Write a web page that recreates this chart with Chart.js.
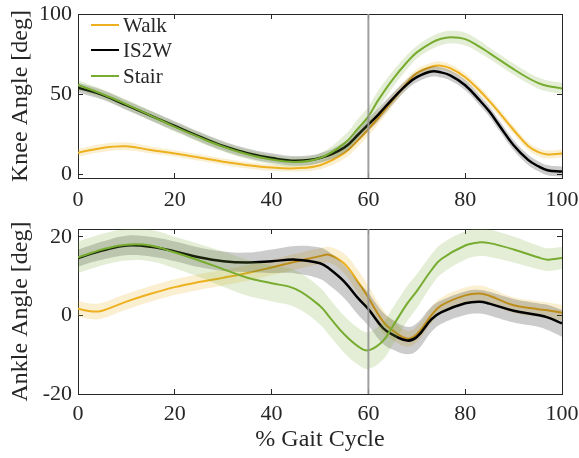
<!DOCTYPE html>
<html>
<head>
<meta charset="utf-8">
<script src="https://cdn.jsdelivr.net/npm/chart.js@4.4.1/dist/chart.umd.min.js"></script>
<style>
  html, body { margin: 0; padding: 0; background: #fff; }
  #wrap { position: relative; width: 579px; height: 458px; overflow: hidden; }
  #c1 { position: absolute; left: 0; top: 0; }
  #c2 { position: absolute; left: 0; top: 215px; }
  .lg { position: absolute; left: 91px; height: 24px; display: flex; align-items: center;
        font-family: 'Liberation Serif', 'Times New Roman', serif; font-size: 21px; color: #262626; white-space: nowrap; }
  .lg span.ln { display: inline-block; width: 28px; margin-right: 4px; }
</style>
</head>
<body>
<div id="wrap">
  <canvas id="c1" width="579" height="215"></canvas>
  <canvas id="c2" width="579" height="243"></canvas>
  <div id="legend"></div>
</div>
<script>
// ---------------- DATA ----------------
const seriesNames = ['Walk', 'IS2W', 'Stair'];
const xTicks = [0, 20, 40, 60, 80, 100];
const kneeTicks = [0, 50, 100];
const ankleTicks = [-20, 0, 20];
const eventX = [60];

const kneeX = [0,5,10,15,20,25,30,35,40,45,50,55,58,60,62,65,68,70,73,75,77,80,83,85,87,90,93,95,97,100];
const kneeWalk  = [13.3,16.3,17.3,15,12.8,10.3,7.7,5.5,4.0,3.6, 5.5,13,21.5,28,35,46,57,63,67,67.7, 66,60.5,52,45.5,38.5,27.5,17.5,13.8,12.2,12.8];
const kneeIS2W  = [54,49.5,43,36.5,30,23.5,17.5,13,10,8.3, 10,16.5,25,31,37,47,56,60.5,64,63.5, 61.5,55.5,46,39,30.5,18,8.8,5,2.4,1.5];
const kneeStair = [55.6,50,43.5,36.5,29.5,23,17,12.3,9,7.5, 10,19,29,36,46,59,70,76,82,84.5, 85.5,84.3,79.5,75.5,71.5,65.5,60,57,55,53.5];
const kneeWalkSD  = [2.5,2.5,2.5,2.2,2,2,2,2,2,2, 2.5,3.5,4,4,4,3.5,3,2.5,2.5,2.5, 2.5,2.5,2.5,2.5,2.5,2.5,2.5,2.5,2.5,2.5];
const kneeIS2WSD  = [3,3,3,3,3,3,3,3,3,3, 3,3.5,4,4,4,3.5,3.2,3.2,3.2,3.2, 3.2,3.2,3.2,3.2,3.2,3.2,3.2,3.2,3.2,3.2];
const kneeStairSD = [3,3,3,3,3,3,3,3,3,3, 3,5,6,6,6,5,4.5,4,4,4, 4,4,3.8,3.5,3.5,3.5,3.5,3.5,3.5,3.5];

const ankleX = [0,3,5,10,15,20,25,30,35,40,45,50,52,55,58,60,63,65,68,70,73,75,80,83,85,90,95,97,100];
const ankleWalk  = [1.7,1.0,1.2,3.5,5.5,7.2,8.5,9.6,10.8,12.2, 13.7,15.1,15.4,13.2,8.3,4.5,-1.5,-3.8,-5.9,-4.8, 0,2.5,5.1,5.6,5.0,2.6,1.6,1.3,0.7];
const ankleIS2W  = [14.6,15.8,16.5,17.8,17.5,16.3,14.8,13.8,13.5,13.8, 14.2,13.3,11.8,8.6,4.2,1.6,-3.2,-4.9,-6.4,-5.5, -1,0.8,3.1,3.5,3.0,1.2,0.1,-0.5,-2];
const ankleStair = [14.8,16,16.8,18,17.8,16,14,11.8,9.6,8.2, 6.7,2.4,-0.5,-4.8,-8,-8.9,-6.5,-2.8,3,6.2, 11.5,14.3,17.8,18.6,18.4,16.8,14.8,14.2,14.6];
const ankleWalkSD  = [2,2,2,2,2,2,2,2,2,2, 2,2,2,2.5,3,3,3,2.5,2,2, 2,2,2,2,2,2,2,2,2];
const ankleIS2WSD  = [2.2,2.2,2.3,2.5,2.5,2.5,2.5,2.5,2.5,3, 3.5,4,4.2,4.2,4.2,4.2,4,3.8,3.5,3.5, 3.2,3,3,3,3,3,3,3.2,3.4];
const ankleStairSD = [4,4,4,4,4,4,4.2,4.5,4.6,4.6, 4.7,4.7,4.7,4.7,4.7,4.7,4.7,4.7,4.5,4.3, 4,3.8,3.6,3.5,3.5,3.3,3,2.9,2.8];

// ---------------- STYLE ----------------
const FONT = "'Liberation Serif', 'Times New Roman', serif";
const TXT = '#262626';
const colors = { Walk: '#EDB120', IS2W: '#000000', Stair: '#77AC30' };
const fills  = { Walk: 'rgba(237,177,32,0.2)', IS2W: 'rgba(0,0,0,0.2)', Stair: 'rgba(119,172,48,0.2)' };
const widths = { Walk: 2, IS2W: 2.5, Stair: 2 };
const baseOrder = { Walk: 4, IS2W: 2, Stair: 0 };

function seriesSets(name, xs, mean, sd) {
  const o = baseOrder[name];
  const common = { pointRadius: 0, pointHoverRadius: 0, tension: 0.4, xAxisID: 'x', yAxisID: 'y' };
  return [
    Object.assign({ label: name + ' upper', data: xs.map((x, i) => ({ x, y: mean[i] + sd[i] })),
      borderColor: 'rgba(0,0,0,0)', borderWidth: 0, backgroundColor: fills[name], fill: '+1', order: o + 1 }, common),
    Object.assign({ label: name + ' lower', data: xs.map((x, i) => ({ x, y: mean[i] - sd[i] })),
      borderColor: 'rgba(0,0,0,0)', borderWidth: 0, fill: false, order: o + 1 }, common),
    Object.assign({ label: name, data: xs.map((x, i) => ({ x, y: mean[i] })),
      borderColor: colors[name], borderWidth: widths[name], fill: false, order: o }, common)
  ];
}

function noPad(s) { s.paddingTop = 0; s.paddingBottom = 0; s.paddingLeft = 0; s.paddingRight = 0; }

function makeChart(canvas, cfg) {
  const tickFont = { family: FONT, size: 22 };
  const titleFont = { family: FONT, size: 24 };
  const gridOpts = { drawOnChartArea: false, drawTicks: true, tickLength: -5, color: TXT, lineWidth: 1 };
  const border = { color: TXT, width: 1 };
  const setTicks = (arr) => (s) => { s.ticks = arr.map(v => ({ value: v })); };

  const datasets = []
    .concat(seriesSets('Walk', cfg.xs, cfg.walk, cfg.walkSD))
    .concat(seriesSets('IS2W', cfg.xs, cfg.is2w, cfg.is2wSD))
    .concat(seriesSets('Stair', cfg.xs, cfg.stair, cfg.stairSD));
  datasets.push({
    label: 'event', data: [{ x: eventX[0], y: cfg.ymin }, { x: eventX[0], y: cfg.ymax }],
    borderColor: 'rgba(150,150,150,0.9)', borderWidth: 2, pointRadius: 0, fill: false, order: -1,
    xAxisID: 'x', yAxisID: 'y'
  });

  return new Chart(canvas, {
    type: 'line',
    data: { datasets },
    options: {
      responsive: false, animation: false, devicePixelRatio: 1,
      layout: { padding: { left: 0, right: 17, top: 14, bottom: 0 } },
      plugins: { legend: { display: false }, tooltip: { enabled: false } },
      scales: {
        x: {
          type: 'linear', position: 'bottom', min: 0, max: 100,
          afterBuildTicks: setTicks(xTicks),
          ticks: { font: tickFont, color: TXT, padding: cfg.xTickPad, maxRotation: 0, autoSkip: false },
          grid: gridOpts, border,
          title: cfg.xTitle ? { display: true, text: cfg.xTitle, font: titleFont, color: TXT, padding: { top: 0, bottom: 4 } } : { display: false },
          afterFit: (s) => { s.height = cfg.xHeight; noPad(s); }
        },
        x2: {
          type: 'linear', position: 'top', min: 0, max: 100,
          afterBuildTicks: setTicks(xTicks),
          ticks: { display: false }, grid: gridOpts, border,
          afterFit: (s) => { s.height = 0; noPad(s); }
        },
        y: {
          type: 'linear', position: 'left', min: cfg.ymin, max: cfg.ymax,
          afterBuildTicks: setTicks(cfg.yTicks),
          ticks: { font: tickFont, color: TXT, padding: 11 },
          grid: gridOpts, border,
          title: { display: true, text: cfg.yTitle, font: titleFont, color: TXT, padding: { top: 6, bottom: 0 } },
          afterFit: (s) => { s.width = 78; noPad(s); }
        },
        y2: {
          type: 'linear', position: 'right', min: cfg.ymin, max: cfg.ymax,
          afterBuildTicks: setTicks(cfg.yTicks),
          ticks: { display: false }, grid: gridOpts, border,
          afterFit: (s) => { s.width = 0; noPad(s); }
        }
      }
    }
  });
}

makeChart(document.getElementById('c1'), {
  xs: kneeX, walk: kneeWalk, is2w: kneeIS2W, stair: kneeStair,
  walkSD: kneeWalkSD, is2wSD: kneeIS2WSD, stairSD: kneeStairSD,
  ymin: -2.5, ymax: 100, yTicks: kneeTicks, yTitle: 'Knee Angle [deg]',
  xHeight: 37, xTickPad: 14, xTitle: null
});

makeChart(document.getElementById('c2'), {
  xs: ankleX, walk: ankleWalk, is2w: ankleIS2W, stair: ankleStair,
  walkSD: ankleWalkSD, is2wSD: ankleIS2WSD, stairSD: ankleStairSD,
  ymin: -20, ymax: 22, yTicks: ankleTicks, yTitle: 'Ankle Angle [deg]',
  xHeight: 64, xTickPad: 12, xTitle: '% Gait Cycle'
});

// legend (HTML, inside top plot)
const legendTops = [13, 38, 64];
const lg = document.getElementById('legend');
seriesNames.forEach((n, i) => {
  const d = document.createElement('div');
  d.className = 'lg';
  d.style.top = legendTops[i] + 'px';
  const ln = document.createElement('span');
  ln.className = 'ln';
  ln.style.borderTop = widths[n] + 'px solid ' + colors[n];
  d.appendChild(ln);
  const t = document.createElement('span');
  t.textContent = n;
  d.appendChild(t);
  lg.appendChild(d);
});
</script>
</body>
</html>
